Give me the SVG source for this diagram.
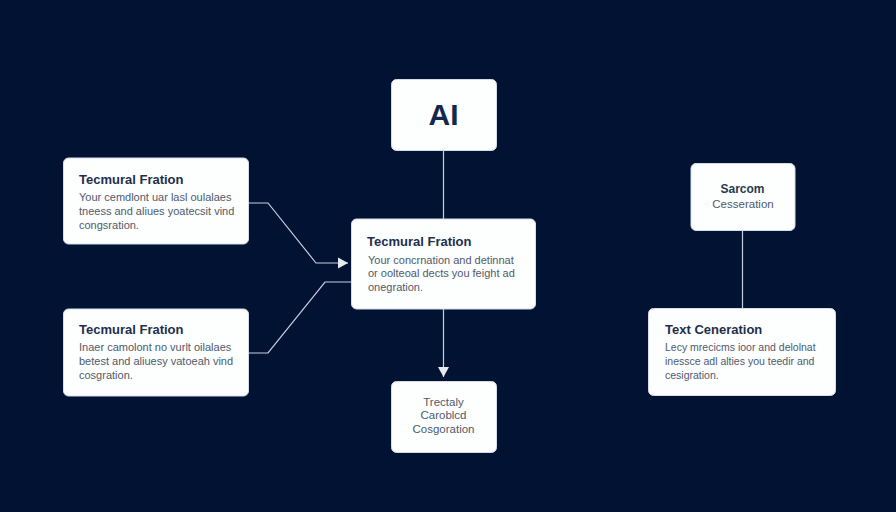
<svg xmlns="http://www.w3.org/2000/svg" width="896" height="512" viewBox="0 0 896 512">
<style>
.box{fill:#fdfefe;stroke:#d5dcea;stroke-width:1}
.t{font-family:"Liberation Sans",Arial,sans-serif;font-size:13px;font-weight:700;fill:#1f2f4a}
.b{font-family:"Liberation Sans",Arial,sans-serif;font-size:11px;fill:#4f5a6c}
.m{font-size:11.500px}
.s{font-size:10.500px}
.c{stroke:#c6cfe0;stroke-width:1.2;fill:none}
</style>
<defs><marker id="a" markerUnits="userSpaceOnUse" markerWidth="12" markerHeight="12" refX="10" refY="6" orient="auto"><path d="M0,0.500L10,6L0,11.500Z" fill="#e6ebf3"/></marker></defs>
<rect width="896" height="512" fill="#021233"/>
<g id="connectors">
<path class="c" d="M443.500 151V219"/>
<path class="c" d="M249 203H268L316 263H348" marker-end="url(#a)"/>
<path class="c" d="M249 353H268L325 282H352"/>
<path class="c" d="M443.500 309V377" marker-end="url(#a)"/>
<path class="c" d="M742.500 231V309"/>
</g>
<g id="node-ai"><rect class="box" x="391.500" y="79.500" width="105" height="71" rx="5"/><text x="443.500" y="125" text-anchor="middle" font-family="Liberation Sans,Arial,sans-serif" font-size="30" font-weight="700" fill="#13294b">AI</text></g>
<g id="node-left-top"><rect class="box" x="63.500" y="158" width="185" height="86" rx="5"/><text class="t" x="79" y="184">Tecmural Fration</text><text class="b" x="79" y="201">Your cemdlont uar lasl oulalaes</text><text class="b" x="79" y="215">tneess and aliues yoatecsit vind</text><text class="b" x="79" y="229">congsration.</text></g>
<g id="node-left-bottom"><rect class="box" x="63.500" y="309" width="185" height="87" rx="5"/><text class="t" x="79" y="334">Tecmural Fration</text><text class="b" x="79" y="351">Inaer camolont no vurlt oilalaes</text><text class="b" x="79" y="365">betest and aliuesy vatoeah vind</text><text class="b" x="79" y="379">cosgration.</text></g>
<g id="node-center"><rect class="box" x="351.500" y="219" width="184" height="90" rx="5"/><text class="t" x="367" y="246">Tecmural Fration</text><text class="b" x="368" y="264">Your concrnation and detinnat</text><text class="b" x="368" y="277">or oolteoal dects you feight ad</text><text class="b" x="368" y="291">onegration.</text></g>
<g id="node-bottom"><rect class="box" x="391.500" y="381.500" width="105" height="71" rx="5"/><text class="b m" x="443.500" y="406" text-anchor="middle">Trectaly</text><text class="b m" x="443.500" y="419" text-anchor="middle">Caroblcd</text><text class="b m" x="443.500" y="433" text-anchor="middle">Cosgoration</text></g>
<g id="node-right-top"><rect class="box" x="691" y="163.500" width="104" height="67" rx="5"/><text x="742.500" y="193" text-anchor="middle" font-family="Liberation Sans,Arial,sans-serif" font-size="12" font-weight="700" fill="#2a3850">Sarcom</text><text class="b m" x="743" y="208" text-anchor="middle">Cesseration</text></g>
<g id="node-right-bottom"><rect class="box" x="648.500" y="308.500" width="187" height="87" rx="5"/><text class="t" x="665" y="334">Text Ceneration</text><text class="b s" x="665" y="351">Lecy mrecicms ioor and delolnat</text><text class="b s" x="665" y="365">inessce adl alties you teedir and</text><text class="b s" x="665" y="379">cesigration.</text></g>
</svg>
